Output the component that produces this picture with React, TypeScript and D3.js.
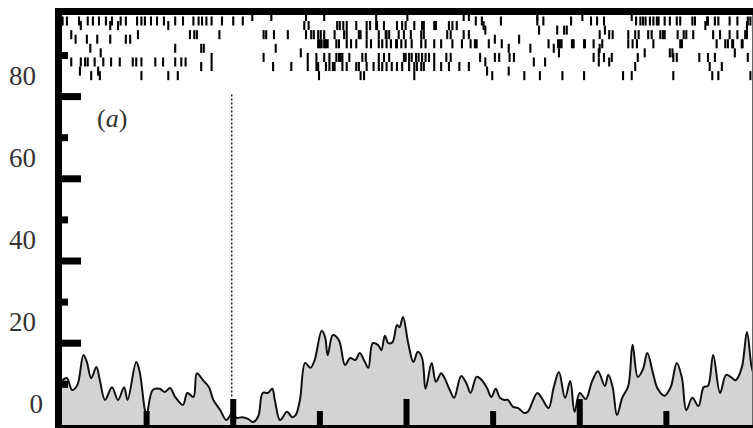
import React from "react";
import * as d3 from "d3";

const WIDTH = 753;
const HEIGHT = 428;

// Population firing rate (time, rate)
const rateTime = [
  2, 8, 14, 20, 27, 31, 36, 42, 46, 52, 60, 67, 74, 78, 88, 92, 98, 100, 107, 115,
  121, 127, 133, 142, 147, 154, 158, 165, 172, 177, 185, 192, 199, 204, 210, 217, 223, 229, 234, 240,
  245, 248, 254, 262, 268, 272, 277, 283, 289, 294, 302, 306, 309, 315, 322, 329, 335, 341, 346, 352,
  356, 361, 367, 371, 375, 379, 384, 389, 392, 396, 402, 408, 413, 418, 422, 429, 434, 440, 444, 450,
  455, 463, 469, 474, 481, 487, 493, 498, 503, 508, 513, 517, 523, 529, 536, 540, 551, 556, 564, 570,
  576, 583, 589, 594, 600, 607, 614, 621, 629, 633, 638, 643, 649, 656, 661, 667, 673, 678, 685, 690,
  698, 705, 712, 718, 723, 730, 737, 743, 748, 754, 762, 769, 776, 780, 787, 793, 798, 800,
];
const rateValue = [
  10.8, 11.5, 8.6, 9.8, 17.1, 15.4, 11.5, 14.2, 11.0, 6.2, 9.3, 6.2, 9.3, 6.2, 15.4, 13.0, 3.7, 2.5, 8.6, 8.9,
  8.1, 9.1, 6.9, 5.0, 7.9, 6.9, 12.7, 11.0, 9.3, 6.2, 3.7, 1.3, 3.0, 1.8, 2.0, 1.6, 0.8, 2.3, 7.9, 7.9,
  8.9, 6.2, 1.3, 3.3, 2.0, 2.5, 6.2, 15.2, 14.0, 15.9, 23.0, 21.5, 17.1, 22.0, 20.7, 14.7, 16.4, 15.9, 17.6, 15.4,
  14.0, 20.0, 19.6, 18.3, 21.8, 20.0, 20.3, 24.4, 23.9, 26.4, 20.0, 15.4, 17.9, 16.4, 8.9, 15.2, 10.6, 12.7, 11.5, 8.6,
  6.7, 12.0, 10.3, 7.9, 11.8, 11.0, 9.1, 6.9, 8.9, 6.7, 6.2, 6.2, 4.5, 4.2, 3.0, 3.3, 7.9, 6.7, 4.2, 9.3,
  13.0, 6.7, 10.8, 3.3, 7.9, 6.4, 10.6, 13.2, 9.6, 12.3, 9.3, 2.5, 6.7, 9.6, 19.6, 11.8, 13.7, 17.6, 12.3, 8.9,
  7.2, 9.3, 15.2, 11.5, 3.7, 6.7, 4.7, 9.3, 9.6, 17.1, 7.9, 12.3, 11.5, 11.0, 14.0, 22.7, 14.7, 13.0,
];

// Spike times of each recorded unit (top row first)
const unit00 = [222, 244, 284, 305, 365, 401, 466, 472, 551, 603, 660];
const unit01 = [
  3, 8, 22, 32, 38, 45, 53, 60, 70, 76, 89, 94, 98, 105, 112, 120, 133, 142, 154, 160, 164, 169, 175, 187, 200, 211,
  480, 487, 509, 551, 558, 590, 613, 620, 628, 665, 670, 673, 676, 681, 685, 689, 691, 698, 704, 712, 716, 730,
  733, 747, 748, 756, 760, 773, 782, 794, 797,
];
const unit02 = [
  24, 58, 67, 125, 282, 287, 320, 323, 327, 331, 342, 354, 358, 365, 366, 374, 389, 395, 399, 409, 418, 420,
  432, 434, 449, 453, 458, 489, 745, 793,
];
const unit03 = [491, 553, 574, 582, 585, 629];
const unit04 = [
  13, 90, 150, 155, 158, 184, 235, 238, 247, 263, 284, 290, 293, 298, 301, 305, 317, 328, 331, 345, 347, 354,
  368, 376, 377, 380, 391, 397, 405, 417, 420, 447, 451, 466, 472, 623, 634, 638, 656, 664, 668, 679, 683, 693,
  696, 698, 713, 720, 723, 731, 754, 762, 773, 782, 791, 793,
];
const unit05 = [18, 31, 43, 58, 76, 81, 502, 530];
const unit06 = [
  298, 300, 302, 305, 307, 309, 319, 322, 331, 336, 342, 354, 359, 368, 372, 377, 382, 388, 389, 394, 399, 406,
  417, 422, 432, 440, 453, 464, 474, 479, 481, 495, 510, 564, 575, 577, 579, 591, 593, 605, 606, 616, 626, 656,
  661, 666, 685, 716, 718, 758, 768, 771, 776, 777, 787, 788,
];
const unit07 = [35, 133, 163, 166, 249, 518, 543, 570, 623];
const unit08 = [47, 278, 576, 622, 675, 704, 707, 779];
const unit09 = [
  175, 235, 286, 296, 305, 311, 319, 322, 324, 326, 334, 349, 353, 368, 374, 380, 397, 399, 403, 406, 411, 414,
  418, 422, 426, 432, 446, 451, 485, 502, 507, 519, 524, 616, 628, 637, 667, 708, 712, 738, 748, 756, 794,
];
const unit10 = [13, 24, 29, 32, 40, 50, 59, 69, 84, 88, 94, 110, 119, 133, 140, 145, 491, 547, 560, 622, 634];
const unit11 = [
  163, 175, 246, 267, 286, 296, 298, 307, 311, 315, 317, 326, 331, 342, 345, 354, 362, 368, 372, 377, 383, 389,
  395, 403, 409, 412, 417, 420, 432, 440, 449, 461, 472, 664, 750, 764,
];
const unit12 = [23, 44, 493, 518];
const unit13 = [
  36, 46, 94, 125, 136, 299, 347, 351, 409, 499, 536, 554, 580, 605, 650, 660, 708, 753, 760, 797,
];
const spikeTrains = [
  unit00, unit01, unit02, unit03, unit04, unit05, unit06,
  unit07, unit08, unit09, unit10, unit11, unit12, unit13,
];

const timeTicks = d3.range(0, 801, 100);
const rateTicks = d3.range(10, 100, 10);
const rateLabels = [0, 20, 40, 60, 80];
const stimulusTime = 200;

const x = d3.scaleLinear().domain([0, 800]).range([60, 753]);
const y = d3.scaleLinear().domain([0, 100]).range([425.4, 14.4]);
const unitRow = d3
  .scalePoint<number>()
  .domain(spikeTrains.map((_, i) => i))
  .range([y(99.5), y(85.1)]);

const FONT = "'Liberation Serif', 'DejaVu Serif', serif";
const INK = "#000";

export default function App() {
  const rate = rateTime.map((t, i) => ({ t, v: rateValue[i] }));
  const area = d3
    .area<{ t: number; v: number }>()
    .x((d) => x(d.t))
    .y0(y(0))
    .y1((d) => y(d.v))
    .curve(d3.curveCatmullRom.alpha(0.5));
  const line = d3
    .line<{ t: number; v: number }>()
    .x((d) => x(d.t))
    .y((d) => y(d.v))
    .curve(d3.curveCatmullRom.alpha(0.5));

  const spikeHalf = y(0) - y(1.1);
  const axisLeft = 55;
  const axisWidth = 7;

  return (
    <svg
      width={WIDTH}
      height={HEIGHT}
      viewBox={`0 0 ${WIDTH} ${HEIGHT}`}
      style={{ position: "absolute", left: 0, top: 0, background: "#fff" }}
    >
      <rect x={0} y={0} width={WIDTH} height={HEIGHT} fill="#fff" />

      {/* firing rate */}
      <path d={area(rate) ?? ""} fill="#d3d3d3" stroke="none" />
      <path d={line(rate) ?? ""} fill="none" stroke="#111" strokeWidth={2} strokeLinejoin="round" />

      {/* stimulus marker */}
      <line
        x1={x(stimulusTime) - 1.5}
        x2={x(stimulusTime) - 1.5}
        y1={y(80) - 2}
        y2={y(6.5)}
        stroke="#000"
        strokeWidth={1.3}
        strokeDasharray="2,2"
      />

      {/* spike raster */}
      <g stroke={INK} strokeWidth={2.1}>
        {spikeTrains.map((train, i) =>
          train.map((t, j) => (
            <line
              key={`${i}-${j}`}
              x1={x(t)}
              x2={x(t)}
              y1={(unitRow(i) as number) - spikeHalf}
              y2={(unitRow(i) as number) + spikeHalf}
            />
          ))
        )}
      </g>

      {/* frame */}
      <line x1={752.5} x2={752.5} y1={8} y2={HEIGHT} stroke="#666" strokeWidth={1} />
      <rect x={axisLeft} y={8} width={WIDTH - axisLeft} height={7} fill={INK} />
      <rect x={axisLeft} y={8} width={axisWidth} height={HEIGHT - 8} fill={INK} />
      <rect x={axisLeft} y={425} width={WIDTH - axisLeft} height={4} fill={INK} />

      {/* rate axis ticks */}
      {rateTicks.map((v) => (
        <rect
          key={`yt-${v}`}
          x={axisLeft}
          y={y(v) - 3.5}
          width={v % 20 === 0 ? 26 : 13}
          height={7}
          fill={INK}
        />
      ))}

      {/* time axis ticks */}
      {timeTicks
        .filter((t) => t > 0 && t < 800)
        .map((t) => {
          const h = t % 200 === 0 ? 27 : 15;
          return (
            <rect key={`xt-${t}`} x={x(t) - 3} y={426 - h} width={6} height={h} fill={INK} />
          );
        })}

      {/* rate labels */}
      {rateLabels.map((v) => (
        <text
          key={`yl-${v}`}
          x={v === 0 ? 43 : 36}
          y={y(v) - 21}
          textAnchor="end"
          dominantBaseline="central"
          fontFamily={FONT}
          fontSize={27}
          fill="#333"
        >
          {v}
        </text>
      ))}

      <text x={97} y={127} fontFamily={FONT} fontSize={26} fill="#333">
        (<tspan fontStyle="italic">a</tspan>)
      </text>
    </svg>
  );
}
